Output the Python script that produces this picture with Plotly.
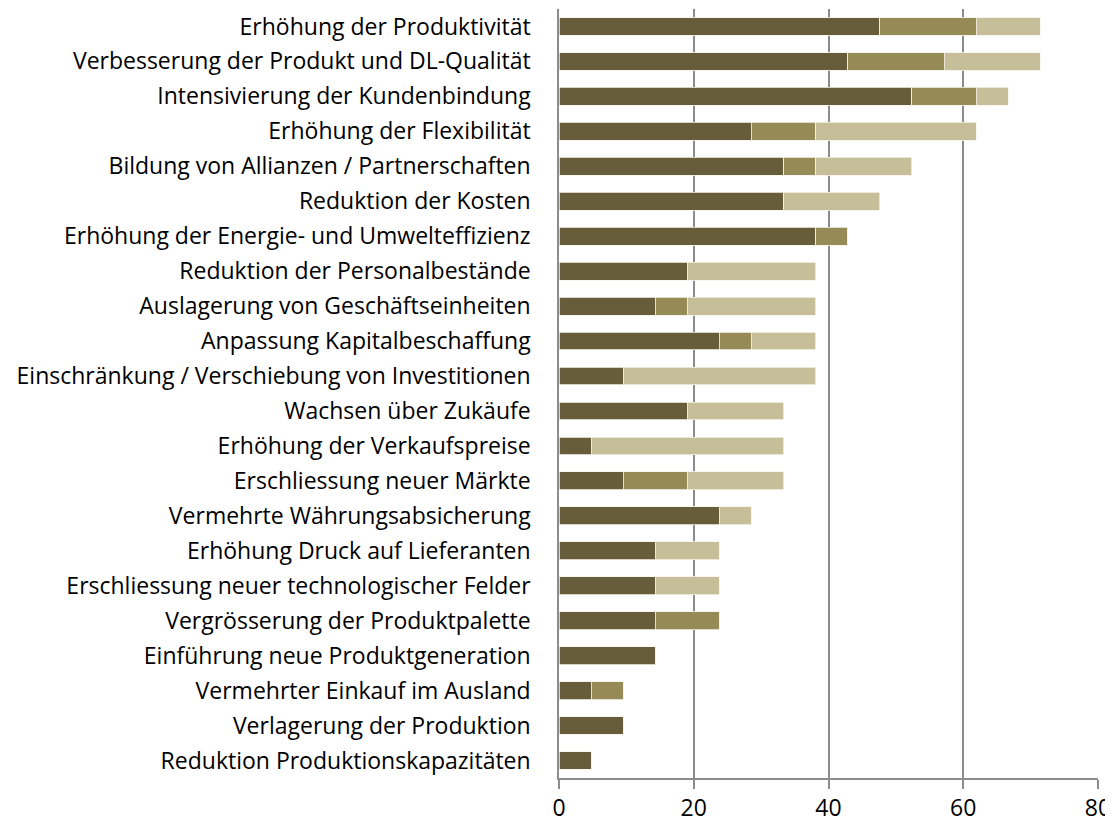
import plotly.graph_objects as go

categories = [
    "Erhöhung der Produktivität",
    "Verbesserung der Produkt und DL-Qualität",
    "Intensivierung der Kundenbindung",
    "Erhöhung der Flexibilität",
    "Bildung von Allianzen / Partnerschaften",
    "Reduktion der Kosten",
    "Erhöhung der Energie- und Umwelteffizienz",
    "Reduktion der Personalbestände",
    "Auslagerung von Geschäftseinheiten",
    "Anpassung Kapitalbeschaffung",
    "Einschränkung / Verschiebung von Investitionen",
    "Wachsen über Zukäufe",
    "Erhöhung der Verkaufspreise",
    "Erschliessung neuer Märkte",
    "Vermehrte Währungsabsicherung",
    "Erhöhung Druck auf Lieferanten",
    "Erschliessung neuer technologischer Felder",
    "Vergrösserung der Produktpalette",
    "Einführung neue Produktgeneration",
    "Vermehrter Einkauf im Ausland",
    "Verlagerung der Produktion",
    "Reduktion Produktionskapazitäten",
]

series1 = [47.62, 42.86, 52.38, 28.57, 33.33, 33.33, 38.10, 19.05, 14.29, 23.81, 9.52,
           19.05, 4.76, 9.52, 23.81, 14.29, 14.29, 14.29, 14.29, 4.76, 9.52, 4.76]
series2 = [14.29, 14.29, 9.52, 9.52, 4.76, 0, 4.76, 0, 4.76, 4.76, 0,
           0, 0, 9.52, 0, 0, 0, 9.52, 0, 4.76, 0, 0]
series3 = [9.52, 14.29, 4.76, 23.81, 14.29, 14.29, 0, 19.05, 19.05, 9.52, 28.57,
           14.29, 28.57, 14.29, 4.76, 9.52, 9.52, 0, 0, 0, 0, 0]

colors = ["#675D3A", "#968B56", "#C6BE98"]
names = ["Serie 1", "Serie 2", "Serie 3"]

fig = go.Figure()
for vals, col, nm in zip([series1, series2, series3], colors, names):
    fig.add_trace(go.Bar(
        y=categories, x=vals, orientation="h", name=nm,
        marker=dict(color=col, line=dict(color="#F4F2EA", width=0.8)),
    ))

fig.update_layout(
    barmode="stack",
    bargap=0.49,
    width=1105, height=814,
    margin=dict(l=551, r=15, t=1, b=44),
    plot_bgcolor="white", paper_bgcolor="white",
    showlegend=False,
    font=dict(family="Open Sans", size=23, color="#000000"),
)
fig.update_xaxes(
    range=[0, 80], dtick=20,
    showgrid=True, gridcolor="#8C8C8C", gridwidth=1.5,
    showline=True, linecolor="#8C8C8C", linewidth=1.5,
    ticks="outside", ticklen=9, tickcolor="#8C8C8C", tickwidth=1.5,
    tickfont=dict(size=23), zeroline=False, automargin=False,
)
fig.update_yaxes(
    categoryorder="array", categoryarray=categories[::-1],
    showline=True, linecolor="#8C8C8C", linewidth=1.5,
    ticks="", ticklabelstandoff=22, showgrid=False, automargin=False,
)

fig.write_html("out.html")
